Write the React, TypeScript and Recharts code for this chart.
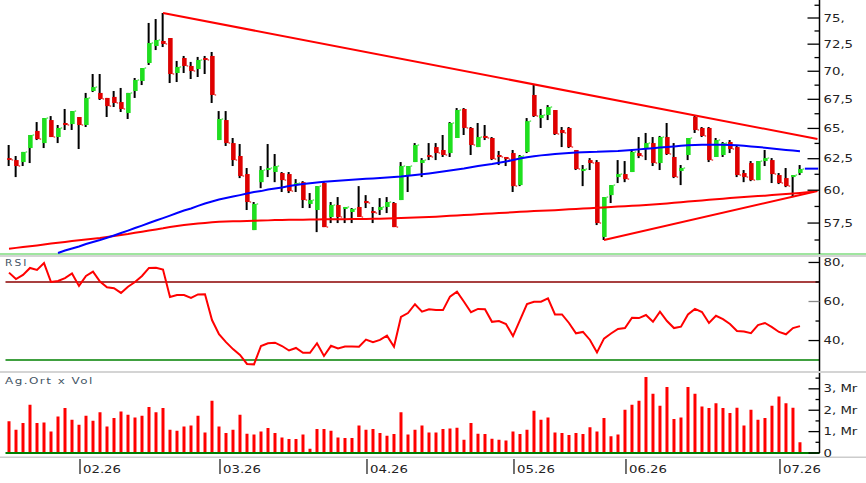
import React from "react";
import { Bar, ComposedChart, Line, ReferenceLine, XAxis, YAxis } from "recharts";

// daily bars, Jan..Jul 2026 (index = trading day)
const opens = [
  62.55, 62.39, 62.23, 63.37, 64.79, 63.78, 65.71, 64.28, 65.46, 65.37,
  65.97, 65.29, 68.23, 68.06, 67.62, 67.71, 67.26, 66.31, 68.23, 69.12,
  70.75, 72.33, 72.8, 73.08, 69.84, 71.21, 70.48, 70.2, 71.21, 71.4,
  64.03, 65.71, 63.78, 62.72, 61.27, 56.98, 60.63, 61.59, 61.43, 61.35,
  61.27, 60.4, 60.63, 58.94, 58.48, 60.56, 57.95, 58.86, 58.56, 58.33,
  58.71, 59.17, 58.4, 58.48, 58.71, 59.01, 59.24, 61.19, 62.23, 62.15,
  62.8, 63.45, 63.21, 62.96, 64.2, 66.66, 65.04, 63.45, 64.37, 64.2,
  62.8, 62.64, 62.96, 60.4, 63.05, 67.88, 65.88, 66.14, 66.57, 64.87,
  65.04, 63.21, 61.51, 62.39, 62.23, 56.47, 59.62, 61.03, 61.27, 61.43,
  62.96, 63.37, 63.78, 62.15, 64.28, 62.64, 61.51, 62.8, 65.97, 65.04,
  65.04, 62.64, 62.8, 63.87, 63.45, 61.35, 62.15, 60.79, 62.31, 62.39,
  61.19, 60.95, 61.03, 61.35,
]
const highs = [
  63.62, 62.72, 63.05, 64.45, 65.54, 65.88, 66.05, 65.29, 66.66, 66.48,
  65.97, 68.06, 69.75, 69.75, 67.62, 68.23, 68.5, 68.06, 69.39, 70.29,
  74.52, 74.9, 75.49, 73.08, 70.94, 71.4, 70.85, 71.31, 71.4, 71.77,
  66.48, 66.48, 64.2, 63.7, 61.75, 59.09, 61.91, 63.7, 62.88, 61.43,
  61.43, 60.87, 60.71, 59.78, 60.32, 60.71, 59.09, 59.47, 58.71, 58.63,
  60.32, 59.62, 58.71, 59.39, 59.47, 59.09, 62.23, 61.91, 63.78, 62.55,
  63.78, 63.78, 64.45, 65.54, 66.74, 66.74, 65.12, 65.46, 65.29, 64.28,
  63.13, 62.64, 63.21, 62.8, 65.88, 68.76, 66.66, 67.0, 66.57, 65.12,
  65.12, 63.21, 61.99, 62.55, 62.39, 59.47, 60.4, 62.39, 62.31, 63.21,
  64.28, 64.62, 64.28, 64.37, 65.46, 63.78, 61.99, 64.2, 66.14, 65.12,
  65.12, 64.2, 63.87, 64.03, 63.54, 61.59, 62.31, 62.31, 63.21, 62.55,
  61.35, 61.75, 61.19, 61.99,
]
const lows = [
  61.91, 61.03, 61.91, 62.15, 64.03, 63.37, 64.28, 63.78, 64.87, 64.87,
  63.29, 65.12, 68.14, 67.44, 65.97, 66.83, 66.4, 65.8, 67.62, 68.76,
  70.57, 71.95, 72.23, 68.94, 69.03, 69.84, 69.3, 69.48, 69.75, 67.18,
  64.03, 63.54, 61.91, 60.95, 58.48, 56.98, 60.16, 61.03, 60.63, 59.86,
  59.78, 59.86, 58.63, 58.63, 56.83, 57.2, 57.5, 57.5, 57.5, 57.5,
  57.95, 58.63, 57.5, 58.1, 58.25, 57.2, 59.24, 59.86, 62.23, 61.03,
  62.39, 62.39, 62.64, 62.64, 64.2, 64.45, 62.8, 63.45, 64.03, 62.39,
  61.99, 61.91, 59.86, 60.32, 62.96, 65.97, 65.04, 65.71, 64.45, 63.45,
  63.37, 61.59, 60.32, 61.59, 57.35, 56.25, 59.01, 60.56, 60.63, 61.43,
  62.55, 62.39, 61.91, 61.59, 62.8, 60.95, 60.4, 62.39, 64.62, 64.28,
  62.23, 62.64, 62.64, 62.96, 61.03, 60.63, 60.71, 60.79, 61.91, 60.56,
  60.48, 60.24, 59.47, 61.19,
]
const closes = [
  62.4, 61.91, 63.05, 64.45, 64.11, 65.88, 64.28, 65.04, 65.29, 66.48,
  65.29, 67.62, 68.58, 67.53, 66.91, 67.18, 66.66, 68.06, 69.21, 70.29,
  72.61, 72.89, 72.52, 69.75, 70.39, 70.48, 70.02, 71.03, 71.03, 67.88,
  65.8, 63.78, 62.39, 61.11, 59.09, 58.94, 61.59, 61.75, 61.91, 60.79,
  59.93, 60.56, 59.24, 59.24, 60.32, 57.2, 58.86, 57.95, 58.71, 58.56,
  57.95, 59.01, 58.25, 58.71, 59.09, 57.2, 61.91, 61.91, 63.62, 62.39,
  62.64, 62.96, 62.8, 65.46, 66.57, 65.04, 63.62, 64.28, 64.2, 62.47,
  62.64, 62.47, 60.32, 62.72, 65.62, 66.05, 66.14, 66.83, 64.53, 64.62,
  63.45, 61.67, 61.67, 62.15, 57.5, 59.47, 60.4, 61.27, 60.87, 63.05,
  62.72, 63.78, 62.15, 64.28, 62.88, 61.03, 61.75, 64.2, 64.87, 64.37,
  62.39, 64.03, 63.78, 63.29, 61.19, 61.03, 60.79, 62.31, 62.55, 61.27,
  60.56, 60.32, 61.19, 61.67,
]

// moving averages (blue = short, red = long)
const maFast = [
  null, null, null, null, null, null, null,
  55.31, 55.49, 55.64, 55.78, 55.96, 56.11, 56.25, 56.41, 56.58, 56.76,
  56.94, 57.13, 57.31, 57.5, 57.69, 57.87, 58.06, 58.25, 58.44, 58.6,
  58.79, 58.98, 59.13, 59.28, 59.39, 59.51, 59.62, 59.74, 59.86, 59.93,
  60.05, 60.13, 60.21, 60.32, 60.4, 60.48, 60.55, 60.6, 60.66, 60.7,
  60.74, 60.78, 60.82, 60.85, 60.89, 60.92, 60.95, 60.99, 61.03, 61.07,
  61.13, 61.19, 61.25, 61.32, 61.39, 61.47, 61.55, 61.63, 61.71, 61.81,
  61.91, 61.99, 62.07, 62.17, 62.27, 62.39, 62.51, 62.61, 62.69, 62.77,
  62.83, 62.88, 62.92, 62.96, 63.0, 63.02, 63.05, 63.06, 63.09, 63.11,
  63.13, 63.17, 63.21, 63.26, 63.31, 63.36, 63.41, 63.45, 63.5, 63.55,
  63.6, 63.62, 63.64, 63.65, 63.65, 63.64, 63.62, 63.6, 63.55, 63.5,
  63.45, 63.4, 63.34, 63.27, 63.21, 63.16, 63.11,
]
const maSlow = [
  55.61, 55.68, 55.74, 55.8, 55.86, 55.93, 55.99, 56.05, 56.11, 56.17,
  56.23, 56.29, 56.35, 56.4, 56.47, 56.55, 56.62, 56.69, 56.78, 56.86,
  56.95, 57.03, 57.11, 57.21, 57.28, 57.35, 57.41, 57.47, 57.51, 57.56,
  57.59, 57.61, 57.63, 57.64, 57.66, 57.67, 57.69, 57.7, 57.72, 57.72,
  57.74, 57.75, 57.75, 57.76, 57.77, 57.78, 57.78, 57.78, 57.79, 57.8,
  57.81, 57.81, 57.82, 57.83, 57.84, 57.85, 57.87, 57.89, 57.91, 57.94,
  57.96, 57.98, 58.01, 58.04, 58.07, 58.1, 58.13, 58.16, 58.19, 58.22,
  58.25, 58.28, 58.31, 58.34, 58.37, 58.4, 58.43, 58.45, 58.47, 58.5,
  58.53, 58.56, 58.59, 58.62, 58.65, 58.68, 58.71, 58.74, 58.77, 58.8,
  58.83, 58.86, 58.9, 58.94, 58.98, 59.03, 59.07, 59.12, 59.17, 59.21,
  59.26, 59.3, 59.34, 59.39, 59.43, 59.47, 59.51, 59.55, 59.58, 59.62,
  59.67, 59.71, 59.75, 59.79, 59.84, 59.89,
]

const rsi = [
  74.8, 71.5, 73.6, 77.2, 76.2, 79.7, 70.0, 70.5, 72.0, 74.4,
  68.0, 73.1, 75.3, 70.2, 67.3, 66.8, 64.4, 67.6, 70.0, 73.1,
  77.2, 77.3, 76.4, 62.3, 63.3, 63.3, 61.8, 63.6, 63.7, 50.5,
  43.3, 39.2, 35.6, 32.6, 28.0, 27.8, 37.2, 38.6, 38.9, 37.2,
  34.9, 36.2, 33.7, 33.7, 38.6, 32.1, 37.3, 36.0, 36.9, 36.9,
  36.8, 40.5, 39.1, 40.3, 42.5, 36.8, 52.1, 54.1, 58.6, 54.8,
  56.0, 55.6, 55.6, 62.5, 65.0, 59.9, 54.5, 56.2, 56.0, 49.6,
  50.0, 48.5, 42.3, 50.5, 58.7, 59.9, 59.9, 61.6, 53.4, 53.4,
  49.0, 43.7, 44.4, 40.3, 33.9, 41.0, 43.6, 45.9, 46.4, 51.7,
  51.5, 53.1, 49.6, 54.8, 50.0, 46.4, 47.1, 53.4, 56.2, 54.6,
  49.0, 52.7, 51.0, 48.5, 44.9, 44.6, 43.8, 47.9, 49.0, 46.9,
  44.4, 43.2, 46.4, 47.4,
]

// Ag.Ort x Vol, milyar
const volume = [
  1.48, 1.09, 1.4, 2.26, 1.4, 1.43, 1.01, 1.71, 2.1, 1.56,
  1.32, 1.74, 1.51, 1.9, 1.24, 1.64, 1.94, 1.79, 1.66, 1.74,
  2.15, 1.9, 2.1, 1.09, 1.04, 1.24, 1.28, 1.74, 0.96, 2.44,
  1.24, 0.93, 1.09, 1.79, 0.9, 0.86, 1.01, 1.17, 0.93, 0.73,
  0.65, 0.65, 0.86, 0.2, 1.12, 1.12, 1.04, 0.73, 0.7, 0.7,
  1.28, 1.09, 1.12, 0.93, 0.81, 0.89, 1.9, 0.86, 1.09, 1.28,
  0.96, 0.96, 1.12, 1.15, 1.18, 0.62, 1.4, 0.9, 0.89, 0.67,
  0.62, 0.59, 1.01, 0.89, 1.09, 1.98, 1.56, 1.66, 0.96, 0.93,
  0.84, 0.93, 0.89, 1.2, 1.01, 1.64, 0.78, 0.86, 2.02, 2.26,
  2.44, 3.55, 2.77, 2.21, 3.08, 1.59, 1.66, 3.08, 2.77, 2.17,
  2.1, 2.32, 2.1, 1.87, 2.12, 1.28, 2.02, 1.56, 1.64, 2.21,
  2.64, 2.32, 2.12, 0.5,
]

const monthTicks = [10, 30, 51, 72, 88, 110]
const monthLabels = ["02.26", "03.26", "04.26", "05.26", "06.26", "07.26"]

const priceTicks = [56.25, 57.5, 58.75, 60, 61.25, 62.5, 63.75, 65, 66.25, 67.5, 68.75, 70, 71.25, 72.5, 73.75, 75, 76.25]
const rsiTicks = [40, 50, 60, 70, 80]
const volTicks = [0, 0.5, 1, 1.5, 2, 2.5, 3, 3.5]

// trend lines: [start, end] as {x: day index, y: price}
const upperTrend = [{ x: 22, y: 75.49 }, { x: 115.5, y: 64.12 }]
const lowerTrend = [{ x: 85, y: 56.25 }, { x: 115.5, y: 59.94 }]
const lastPrice = 61.7

const W = 866
const AXIS_W = 46.5
const LEFT = 5.5
const xDomain = [-0.5, 115.79]
const font = "DejaVu Sans"

const rows = Array.from({ length: 116 }, (_, i) => ({
  i,
  range: i < opens.length ? [lows[i], highs[i]] : null,
  open: opens[i],
  high: highs[i],
  low: lows[i],
  close: closes[i],
  maFast: maFast[i] ?? null,
  maSlow: maSlow[i] ?? null,
  rsi: rsi[i] ?? null,
  vol: volume[i] ?? null,
}))

const Candle = (props: any) => {
  const { x, y, width, height, payload } = props
  if (payload == null || payload.high == null) return null
  const cx = x + width / 2
  const top = Math.min(y, y + height)
  const h = Math.abs(height)
  const lnH = Math.log(payload.high)
  const lnL = Math.log(payload.low)
  const toY = (v: number) => (lnH === lnL ? top : top + ((lnH - Math.log(v)) / (lnH - lnL)) * h)
  const yo = toY(payload.open)
  const yc = toY(payload.close)
  const up = payload.close >= payload.open
  const color = up ? "#1ee01e" : "#e00000"
  const bt = Math.min(yo, yc)
  const bh = Math.max(Math.abs(yc - yo), 1.5)
  return (
    <g>
      <rect x={cx - 1} y={top} width={2} height={Math.max(h, 1)} fill="#000" />
      <rect x={cx - 1.5} y={bt} width={4.5} height={bh} fill={color} />
      <rect x={cx + 3} y={yc - 0.75} width={1.5} height={1.5} fill={color} opacity={0.7} />
    </g>
  )
}

const label = (txt: string, x: number, y: number) => (
  <text transform={`translate(${x},${y}) scale(1.33,1)`} fontSize={10} fontFamily={font} fill="#222">
    {txt}
  </text>
)

const PriceTick = ({ x, y, payload }: any) => {
  const v = payload.value
  const major = Math.abs(v / 2.5 - Math.round(v / 2.5)) < 1e-6
  const txt = Number.isInteger(v) ? `${v},` : String(v).replace(".", ",")
  return (
    <g>
      <line x1={x - (major ? 12 : 5)} x2={x} y1={y} y2={y} stroke="#000" strokeWidth={1.3} />
      {major && label(txt, x + 4, y + 3.5)}
    </g>
  )
}

const RsiTick = ({ x, y, payload }: any) => {
  const v = payload.value
  const major = v % 20 === 0
  return (
    <g>
      <line x1={x - (major ? 11 : 4)} x2={x} y1={y} y2={y} stroke={v === 60 ? "#888" : "#000"} strokeWidth={1.3} />
      {major && label(`${v},`, x + 4, y + 3.5)}
    </g>
  )
}

const VolTick = ({ x, y, payload }: any) => {
  const v = payload.value
  const major = Number.isInteger(v)
  return (
    <g>
      <line x1={x - (major ? 11 : 4)} x2={x} y1={y} y2={y} stroke="#000" strokeWidth={1.3} />
      {major && label(v === 0 ? "0" : `${v}, Mr`, x + 4, y + 3.5)}
    </g>
  )
}

const MonthTick = ({ x, y, payload }: any) => {
  const txt = monthLabels[monthTicks.indexOf(payload.value)]
  return (
    <g>
      <line x1={x + 1} x2={x + 1} y1={y + 6} y2={y + 21} stroke="#444" strokeWidth={1.5} />
      {label(txt, x + 4, y + 20)}
    </g>
  )
}

export default function App() {
  return (
    <div style={{ position: "absolute", left: 0, top: 0, width: W, height: 483, background: "#fff" }}>
      <svg width={W} height={483} style={{ position: "absolute", left: 0, top: 0 }}>
        <rect x={0} y={253} width={W} height={2} fill="#9fe59f" />
        <rect x={0} y={255} width={W} height={2} fill="#d4d4d4" />
        <rect x={0} y={371} width={W} height={2} fill="#d4d4d4" />
        <rect x={0} y={456.5} width={W} height={1.5} fill="#cccccc" />
        <text transform="translate(5,266) scale(1.33,1)" fontSize={8} letterSpacing={1.5} fontFamily={font} fill="#445566">
          RSI
        </text>
        <text transform="translate(5,383.5) scale(1.33,1)" fontSize={9} letterSpacing={1.1} fontFamily={font} fill="#445566">
          Ag.Ort x Vol
        </text>
      </svg>

      <div style={{ position: "absolute", left: 0, top: 0 }}>
        <ComposedChart width={W} height={255} data={rows} margin={{ top: 0, right: 0, bottom: 1, left: LEFT }}>
          <XAxis type="number" dataKey="i" domain={xDomain} allowDataOverflow hide />
          <YAxis
            orientation="right"
            scale="log"
            domain={[55.24, 76.77]}
            allowDataOverflow
            ticks={priceTicks}
            interval={0}
            width={AXIS_W}
            tickSize={0}
            tickMargin={0}
            tickLine={false}
            axisLine={{ stroke: "#000", strokeWidth: 1.5 }}
            tick={<PriceTick />}
          />
          <Line dataKey="maSlow" stroke="#ff0000" strokeWidth={2} dot={false} isAnimationActive={false} />
          <Line dataKey="maFast" stroke="#0000ff" strokeWidth={2} dot={false} isAnimationActive={false} />
          <Bar dataKey="range" barSize={7} shape={<Candle />} isAnimationActive={false} />
          <ReferenceLine segment={upperTrend} stroke="#ff0000" strokeWidth={2} ifOverflow="visible" />
          <ReferenceLine segment={lowerTrend} stroke="#ff0000" strokeWidth={2} ifOverflow="visible" />
          <ReferenceLine
            segment={[{ x: 113.7, y: lastPrice }, { x: 115.6, y: lastPrice }]}
            stroke="#0000ff"
            strokeWidth={2}
            ifOverflow="visible"
          />
        </ComposedChart>
      </div>

      <div style={{ position: "absolute", left: 0, top: 256 }}>
        <ComposedChart width={W} height={116} data={rows} margin={{ top: 1, right: 0, bottom: 1, left: LEFT }}>
          <XAxis type="number" dataKey="i" domain={xDomain} allowDataOverflow hide />
          <YAxis
            orientation="right"
            domain={[24.4, 82.8]}
            allowDataOverflow
            ticks={rsiTicks}
            interval={0}
            width={AXIS_W}
            tickSize={0}
            tickMargin={0}
            tickLine={false}
            axisLine={{ stroke: "#000", strokeWidth: 1.5 }}
            tick={<RsiTick />}
          />
          <ReferenceLine y={70} stroke="#8b0000" strokeWidth={1.5} />
          <ReferenceLine y={30} stroke="#008000" strokeWidth={1.5} />
          <Line dataKey="rsi" stroke="#ff0000" strokeWidth={2} dot={false} isAnimationActive={false} />
        </ComposedChart>
      </div>

      <div style={{ position: "absolute", left: 0, top: 372 }}>
        <ComposedChart width={W} height={111} data={rows} margin={{ top: 1, right: 0, bottom: 0, left: LEFT }}>
          <XAxis
            type="number"
            dataKey="i"
            domain={xDomain}
            allowDataOverflow
            ticks={monthTicks}
            interval={0}
            height={30}
            tickSize={0}
            tickMargin={0}
            tickLine={false}
            axisLine={false}
            tick={<MonthTick />}
          />
          <YAxis
            orientation="right"
            domain={[0, 3.74]}
            allowDataOverflow
            ticks={volTicks}
            interval={0}
            width={AXIS_W}
            tickSize={0}
            tickMargin={0}
            tickLine={false}
            axisLine={{ stroke: "#000", strokeWidth: 1.5 }}
            tick={<VolTick />}
          />
          <Bar dataKey="vol" barSize={3} fill="#ff0000" isAnimationActive={false} />
          <ReferenceLine y={0} stroke="#008000" strokeWidth={2} />
        </ComposedChart>
      </div>
    </div>
  )
}
